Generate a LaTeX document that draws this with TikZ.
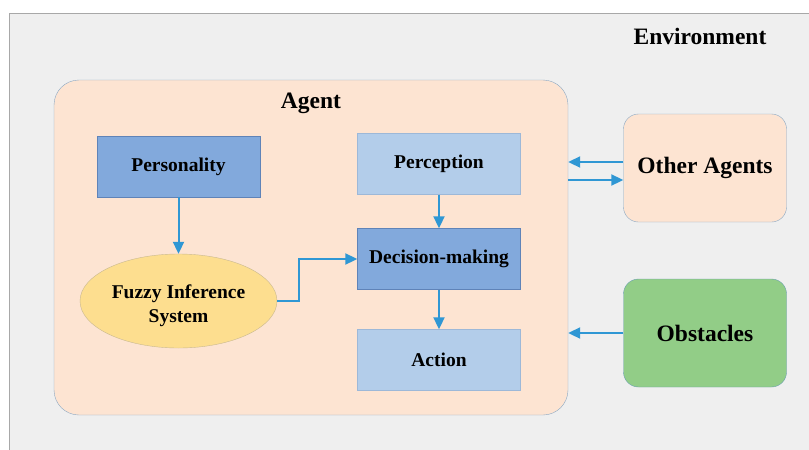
\documentclass[tikz,border=0pt]{standalone}
\usepackage{fontspec}
\setmainfont{Liberation Serif}
\usetikzlibrary{arrows.meta, shapes.geometric}

\definecolor{envgray}{HTML}{EFEFEF}
\definecolor{envline}{HTML}{A8A8A8}
\definecolor{peach}{HTML}{FDE4D2}
\definecolor{peachline}{HTML}{8AA8C4}
\definecolor{darkblue}{HTML}{82A9DC}
\definecolor{darkblueline}{HTML}{5F83B8}
\definecolor{lightblue}{HTML}{B3CDEA}
\definecolor{lightblueline}{HTML}{9DB8D8}
\definecolor{fisyellow}{HTML}{FDDE8F}
\definecolor{fisline}{HTML}{C9B98F}
\definecolor{obstgreen}{HTML}{92CD87}
\definecolor{obstline}{HTML}{6A9FB0}
\definecolor{flowblue}{HTML}{2F97D4}

\begin{document}
\begin{tikzpicture}[x=1pt, y=-1pt,
    box/.style={minimum width=163pt, minimum height=61pt, inner sep=0pt,
        font=\fontsize{19.5}{24}\selectfont\bfseries, align=center},
    darkbox/.style={box, draw=darkblueline, fill=darkblue},
    lightbox/.style={box, draw=lightblueline, fill=lightblue},
    outerbox/.style={box, minimum height=108pt, rounded corners=15pt,
        font=\fontsize{23.5}{28}\selectfont\bfseries},
    title/.style={font=\fontsize{23.5}{28}\selectfont\bfseries},
    flow/.style={draw=flowblue, line width=2pt,
        -{Triangle[length=12pt, width=11pt]}}]
    \useasboundingbox (0, 0) rectangle (809, 450);
    \clip (0, 0) rectangle (809, 450);

    % Environment
    \fill[white] (0, 0) rectangle (809, 450);
    \draw[envline, fill=envgray, line width=1pt] (9, 13) rectangle (815, 460);
    \node[title] (env) at (700, 36) {Environment};

    % Agent
    \node[draw=peachline, fill=peach, rounded corners=25pt, inner sep=0pt,
        minimum width=514pt, minimum height=335pt] (agent) at (311, 247.5) {};
    \node[title] (agentlabel) at (311, 103) {Agent};

    \node[darkbox] (pers) at (178.5, 166.5) {Personality};
    \node[ellipse, draw=fisline, fill=fisyellow, inner sep=0pt,
        minimum width=197pt, minimum height=94pt,
        font=\fontsize{19.5}{24}\selectfont\bfseries] (fis) at (178.5, 301)
        {\raisebox{-10pt}[0pt][0pt]{\begin{tabular}{@{}c@{}}Fuzzy Inference\\System\end{tabular}}};
    \node[lightbox] (perc) at (439, 164) {Perception};
    \node[darkbox] (dm) at (439, 259) {Decision-making};
    \node[lightbox] (act) at (439, 360) {Action};

    % Outside the agent
    \node[outerbox, draw=peachline, fill=peach] (other) at (705, 168) {Other Agents};
    \node[outerbox, draw=obstline, fill=obstgreen] (obst) at (705, 333) {Obstacles};

    % Arrows
    \draw[flow] (pers) -- (fis);
    \draw[flow] (perc) -- (dm);
    \draw[flow] (dm) -- (act);
    \draw[flow] (fis.east) -- ++(22, 0) |- (dm);
    \draw[flow] ([yshift=6pt]other.west) -- ([yshift=6pt]other.west -| agent.east);
    \draw[flow] ([yshift=-12pt]other.west -| agent.east) -- ([yshift=-12pt]other.west);
    \draw[flow] (obst) -- (obst -| agent.east);
\end{tikzpicture}
\end{document}
